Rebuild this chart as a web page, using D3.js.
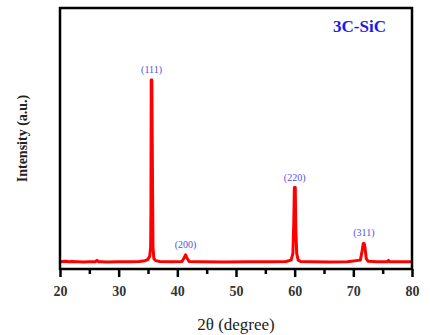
<!DOCTYPE html>
<html>
<head>
<meta charset="utf-8">
<script src="https://cdn.jsdelivr.net/npm/d3@7"></script>
<style>
  body { margin: 0; background: #fff; }
  svg { display: block; }
</style>
</head>
<body>
<div id="chart"></div>
<script>
// XRD pattern
const twoTheta = [20, 21, 21.5, 22, 23, 24, 25, 26, 26.3, 26.6, 27, 28, 30, 32, 33.5, 34.5, 35.0, 35.3, 35.45, 35.5, 35.55, 35.65, 35.75, 35.85, 36.0, 36.3, 37, 39, 40.8, 41.2, 41.4, 41.6, 42, 44, 48, 52, 56, 58.5, 59.4, 59.7, 59.85, 59.95, 60.1, 60.2, 60.35, 60.6, 61, 63, 66, 69, 71.2, 71.5, 71.7, 71.85, 72.0, 72.2, 72.5, 74, 75.8, 76, 76.2, 78, 80];
const intensity = [28, 30, 28, 29, 28, 27, 28, 28, 33, 28, 28, 27, 28, 28, 29, 32, 37, 50, 84, 218, 724, 724, 400, 85, 40, 32, 29, 28, 29, 44, 54, 44, 29, 28, 27, 28, 28, 29, 34, 60, 180, 312, 312, 150, 60, 34, 29, 28, 27, 28, 34, 70, 98, 98, 80, 40, 30, 28, 28, 33, 28, 28, 28];

const peakLabels = ["(111)", "(200)", "(220)", "(311)"];
const peakPos = [35.6, 41.4, 60.0, 71.8];
const peakTop = [724, 54, 312, 98];

const xTicks = [20, 30, 40, 50, 60, 70, 80];
const xMinor = [25, 35, 45, 55, 65, 75];

const margin = {top: 8, right: 18, bottom: 66, left: 60};
const svgWidth = 430, svgHeight = 335;
const width = svgWidth - margin.left - margin.right;
const height = svgHeight - margin.top - margin.bottom;

const x = d3.scaleLinear().domain([20, 80]).range([0, width]);
const y = d3.scaleLinear().domain([0, 1000]).range([height, 0]);

const svg = d3.select("#chart").append("svg")
  .attr("width", svgWidth).attr("height", svgHeight)
  .append("g")
  .attr("transform", "translate(" + margin.left + "," + margin.top + ")");

// data line
const line = d3.line().x((d, i) => x(twoTheta[i])).y(d => y(d));
svg.append("path")
  .datum(intensity)
  .attr("d", line)
  .attr("fill", "none")
  .attr("stroke", "#ff0000")
  .attr("stroke-width", 3)
  .attr("stroke-linejoin", "round");

// frame
svg.append("rect")
  .attr("width", width).attr("height", height)
  .attr("fill", "none").attr("stroke", "#000").attr("stroke-width", 2.5);

// x axis
const xAxis = svg.append("g")
  .attr("transform", "translate(0," + height + ")")
  .call(d3.axisBottom(x).tickValues(xTicks).tickSize(8).tickPadding(9).tickFormat(d3.format("d")));
xAxis.select(".domain").remove();
xAxis.selectAll(".tick line").attr("stroke-width", 2.5);
xAxis.selectAll("text")
  .attr("font-family", "Liberation Serif").attr("font-weight", "bold")
  .attr("font-size", "14px").attr("fill", "#333");

const xAxisMinor = svg.append("g")
  .attr("transform", "translate(0," + height + ")")
  .call(d3.axisBottom(x).tickValues(xMinor).tickSize(5).tickFormat(""));
xAxisMinor.select(".domain").remove();
xAxisMinor.selectAll(".tick line").attr("stroke-width", 2.5);

// axis titles
svg.append("text")
  .attr("x", width / 2).attr("y", height + 61)
  .attr("text-anchor", "middle")
  .attr("font-family", "Liberation Serif").attr("font-size", "17px").attr("fill", "#222")
  .text("2θ (degree)");

svg.append("text")
  .attr("transform", "translate(" + (-33) + "," + (height / 2) + ") rotate(-90)")
  .attr("text-anchor", "middle")
  .attr("font-family", "Liberation Serif").attr("font-weight", "bold")
  .attr("font-size", "14px").attr("fill", "#222")
  .text("Intensity (a.u.)");

// sample name
svg.append("text")
  .attr("x", width - 26).attr("y", 24)
  .attr("text-anchor", "end")
  .attr("font-family", "Liberation Serif").attr("font-weight", "bold")
  .attr("font-size", "17px").attr("fill", "#1a1ae6")
  .text("3C-SiC");

// peak labels
svg.selectAll(".peak")
  .data(peakLabels)
  .enter().append("text")
  .attr("class", "peak")
  .attr("x", (d, i) => x(peakPos[i]))
  .attr("y", (d, i) => y(peakTop[i]) - 7)
  .attr("text-anchor", "middle")
  .attr("font-family", "Liberation Serif")
  .attr("font-size", "10px").attr("fill", "#5050e6")
  .text(d => d);
</script>
</body>
</html>
